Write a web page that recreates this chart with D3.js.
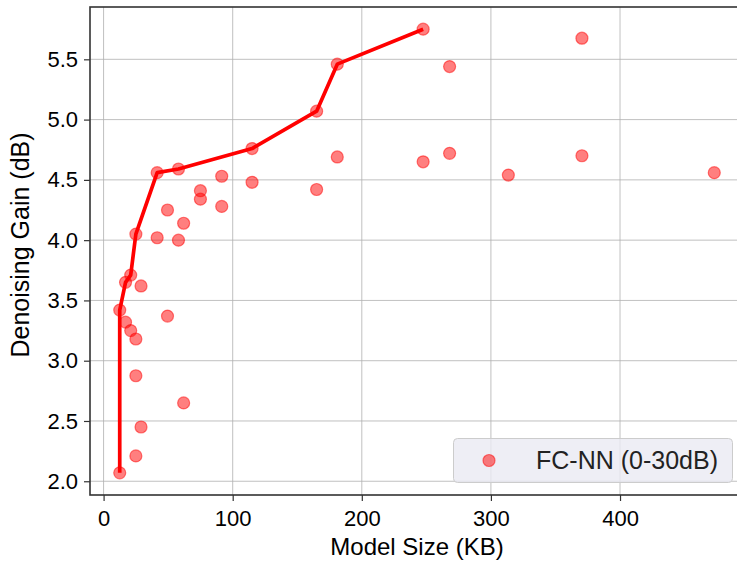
<!DOCTYPE html>
<html>
<head>
<meta charset="utf-8">
<script src="https://cdn.jsdelivr.net/npm/d3@7"></script>
<style>
  html, body { margin: 0; padding: 0; background: #fff; }
  svg { display: block; font-family: "Liberation Sans", Arial, sans-serif; }
</style>
</head>
<body>
<svg id="chart" width="737" height="562"></svg>
<script>
// ---- data ----
const modelSize = [12.5, 12.5, 17, 17, 21, 21, 25, 25, 25, 25, 29, 29, 41.5, 41.5, 49.5, 49.5,
  58, 58, 62, 62, 75, 75, 91.5, 91.5, 115, 115, 165, 165, 181, 181, 247.5, 247.5,
  268, 268, 313.5, 370.5, 370.5, 473];
const gain = [2.07, 3.42, 3.65, 3.32, 3.71, 3.25, 4.05, 3.18, 2.875, 2.21, 3.62, 2.45, 4.56, 4.02, 4.25, 3.37,
  4.59, 4.00, 4.14, 2.65, 4.41, 4.34, 4.53, 4.28, 4.76, 4.48, 5.07, 4.42, 5.46, 4.69, 5.75, 4.65,
  5.44, 4.72, 4.54, 5.675, 4.70, 4.56];
const frontSize = [12.5, 12.5, 17, 21, 25, 41.5, 58, 115, 165, 181, 247.5];
const frontGain = [2.07, 3.42, 3.65, 3.71, 4.05, 4.56, 4.59, 4.76, 5.07, 5.46, 5.75];
const xTicks = [0, 100, 200, 300, 400];
const yTicks = [2.0, 2.5, 3.0, 3.5, 4.0, 4.5, 5.0, 5.5];
const seriesLabel = "FC-NN (0-30dB)";
const xLabel = "Model Size (KB)";
const yLabel = "Denoising Gain (dB)";

// ---- layout ----
const svg = d3.select("#chart");
const L = 90, R = 744, T = 7, B = 495;
const xMin = d3.min(modelSize), xMax = d3.max(modelSize);
const yMin = d3.min(gain), yMax = d3.max(gain);
const xm = (xMax - xMin) * 0.05, ym = (yMax - yMin) * 0.05;
const x = d3.scaleLinear().domain([xMin - xm, xMax + xm]).range([L, R]);
const y = d3.scaleLinear().domain([yMin - ym, yMax + ym]).range([B, T]);

svg.append("rect").attr("width", 737).attr("height", 562).attr("fill", "#fff");

// grid
const grid = svg.append("g").attr("stroke", "#b0b0b0").attr("stroke-width", 1).attr("stroke-opacity", 0.8);
xTicks.forEach(t => grid.append("line").attr("x1", x(t)).attr("x2", x(t)).attr("y1", T).attr("y2", B));
yTicks.forEach(t => grid.append("line").attr("x1", L).attr("x2", R).attr("y1", y(t)).attr("y2", y(t)));

// axes
const xAxis = d3.axisBottom(x).tickValues(xTicks).tickFormat(d3.format("d")).tickSizeOuter(0).tickSize(6).tickPadding(4);
const yAxis = d3.axisLeft(y).tickValues(yTicks).tickFormat(d3.format(".1f")).tickSizeOuter(0).tickSize(6).tickPadding(6);
const gx = svg.append("g").attr("transform", `translate(0,${B})`).call(xAxis);
const gy = svg.append("g").attr("transform", `translate(${L},0)`).call(yAxis);
[gx, gy].forEach(g => {
  g.select(".domain").remove();
  g.selectAll(".tick line").attr("stroke", "#333").attr("stroke-width", 1.2);
  g.selectAll(".tick text").attr("fill", "#000").style("font-size", "22px")
    .style("font-family", "'Liberation Sans', Arial, sans-serif");
});
gx.selectAll(".tick text").attr("dy", "0.95em");

// points
svg.append("g").selectAll("circle").data(modelSize).join("circle")
  .attr("cx", (d, i) => x(d)).attr("cy", (d, i) => y(gain[i])).attr("r", 6)
  .attr("fill", "red").attr("fill-opacity", 0.5)
  .attr("stroke", "red").attr("stroke-opacity", 0.5).attr("stroke-width", 1.2);

// front line
const line = d3.line().x(d => x(d[0])).y(d => y(d[1]));
svg.append("path").datum(frontSize.map((s, i) => [s, frontGain[i]]))
  .attr("d", line).attr("fill", "none").attr("stroke", "red").attr("stroke-width", 3.7)
  .attr("stroke-linejoin", "round").attr("stroke-linecap", "butt");

// spines
svg.append("rect").attr("x", L).attr("y", T).attr("width", R - L).attr("height", B - T)
  .attr("fill", "none").attr("stroke", "#333").attr("stroke-width", 1.6);

// legend
const lg = svg.append("g");
lg.append("rect").attr("x", 453.5).attr("y", 438.5).attr("width", 279).attr("height", 44).attr("rx", 4)
  .attr("fill", "#eaeaf2").attr("fill-opacity", 0.8).attr("stroke", "#cccccc").attr("stroke-width", 1);
lg.append("circle").attr("cx", 489).attr("cy", 460.5).attr("r", 6)
  .attr("fill", "red").attr("fill-opacity", 0.5)
  .attr("stroke", "red").attr("stroke-opacity", 0.5).attr("stroke-width", 1.2);
lg.append("text").attr("x", 536).attr("y", 469).text(seriesLabel)
  .style("font-size", "25px").attr("fill", "#222");

// labels
svg.append("text").attr("x", (L + R) / 2).attr("y", 555).attr("text-anchor", "middle")
  .style("font-size", "24px").attr("fill", "#000").text(xLabel);
svg.append("text").attr("transform", `translate(29,${(T + B) / 2 - 6}) rotate(-90)`).attr("text-anchor", "middle")
  .style("font-size", "25px").attr("fill", "#000").text(yLabel);
</script>
</body>
</html>
